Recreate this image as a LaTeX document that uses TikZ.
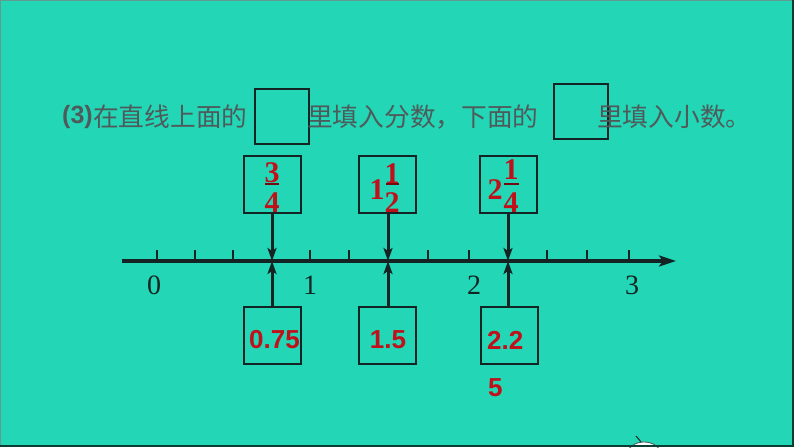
\documentclass[tikz,border=0pt]{standalone}
\usepackage{fontspec}
\setmainfont{Liberation Serif}
\newfontfamily\cjk{Noto Sans CJK SC}
\newfontfamily\arialf{Liberation Sans}
\usetikzlibrary{arrows.meta}
\definecolor{bgc}{HTML}{22D6B6}
\definecolor{txtgray}{HTML}{4F5B5B}
\definecolor{inkc}{HTML}{142424}
\definecolor{redc}{HTML}{C0101A}
\definecolor{edgec}{HTML}{0B3D33}
\tikzset{
  ansbox/.style={draw=inkc, line width=2pt, minimum width=57pt, minimum height=57pt, inner sep=0pt},
  titlebox/.style={draw=inkc, line width=2pt, minimum width=54pt, minimum height=55pt, inner sep=0pt},
  conn/.style={draw=inkc, line width=3pt, -{Stealth[length=13pt,width=9pt,inset=3pt]}},
  axisline/.style={draw=inkc, line width=3.6pt, -{Stealth[length=17pt,width=11pt,inset=4pt]}},
  tickmark/.style={draw=inkc, line width=2.6pt},
  cjktext/.style={inner sep=0pt, anchor=west, text=txtgray, font=\cjk\fontsize{25.7}{28}\selectfont},
  axislabel/.style={inner sep=0pt, text=inkc, font=\fontsize{28}{30}\selectfont},
  fracnum/.style={inner sep=0pt, text=redc, font=\bfseries\fontsize{30}{32}\selectfont},
  fracbar/.style={draw=redc!60!black, line width=1.2pt},
  decnum/.style={inner sep=0pt, text=redc, font=\arialf\bfseries\fontsize{26}{28}\selectfont}
}
\begin{document}
\begin{tikzpicture}[x=1pt,y=-1pt]
\useasboundingbox (0,0) rectangle (794,447);
\fill[bgc] (0,0) rectangle (794,447);

% title line
\node[inner sep=0pt, anchor=west, text=txtgray, font=\arialf\bfseries\fontsize{25}{28}\selectfont] (t0) at (62,117) {(3)};
\node[cjktext] (t1) at (93,117) {在直线上面的};
\node[titlebox] (tb1) at (282,116.5) {};
\node[cjktext] (t2) at (307,117) {里填入分数，下面的};
\node[titlebox] (tb2) at (580.5,111.5) {};
\node[cjktext] (t3) at (597,117) {里填入小数。};

% number line
\coordinate (axs) at (122,261);
\coordinate (axe) at (676,261);
\draw[axisline] (axs) -- (axe);
\foreach \x in {157,195,233,272,310,349,388,428,469,508,547,587,629}{
  \coordinate (tk\x) at (\x,261);
  \draw[tickmark] (tk\x) -- ++(0,-11);
}
\node[axislabel] (l0) at (154,285) {0};
\node[axislabel] (l1) at (310,285) {1};
\node[axislabel] (l2) at (474,285) {2};
\node[axislabel] (l3) at (632,285) {3};

% upper boxes
\node[ansbox] (u1) at (272.5,184.5) {};
\node[ansbox] (u2) at (387.5,184.5) {};
\node[ansbox] (u3) at (508.5,184.5) {};
% fractions
\node[fracnum] (f1n) at (272,173) {3};
\draw[fracbar] (265,184) -- (279,184);
\node[fracnum] (f1d) at (272,203) {4};
\node[fracnum] (f2w) at (377,190) {1};
\node[fracnum] (f2n) at (392,174) {1};
\draw[fracbar] (386,184) -- (399,184);
\node[fracnum] (f2d) at (392,203) {2};
\node[fracnum] (f3w) at (495,190) {2};
\node[fracnum] (f3n) at (511,170) {1};
\draw[fracbar] (504,184) -- (519,184);
\node[fracnum] (f3d) at (511,203) {4};

% lower boxes
\node[ansbox] (d1) at (272.5,335) {};
\node[ansbox] (d2) at (387.5,335) {};
\node[ansbox] (d3) at (509,335) {};
\node[decnum] (n1) at (274.5,340) {0.75};
\node[decnum] (n2) at (388,340) {1.5};
\node[decnum, anchor=west] (n3) at (487,340) {2.2};
\node[decnum, anchor=west] (n4) at (488,388) {5};

% connectors
\coordinate (p1) at (272,261);
\coordinate (p2) at (388,261);
\coordinate (p3) at (508,261);
\draw[conn] (u1.south -| p1) -- (p1);
\draw[conn] (u2.south -| p2) -- (p2);
\draw[conn] (u3.south -| p3) -- (p3);
\draw[conn] (d1.north -| p1) -- (p1);
\draw[conn] (d2.north -| p2) -- (p2);
\draw[conn] (d3.north -| p3) -- (p3);

% partial cartoon at the bottom
\begin{scope}
\clip (0,0) rectangle (794,447);
\draw[fill=white, draw=inkc!80, line width=0.8pt] (644,455) ellipse (17 and 13);
\draw[inkc, line width=1pt] (636,436) .. controls (638,439) and (640,440) .. (641,442);
\end{scope}

% frame
\draw[gray!70!bgc, line width=1pt] (0.5,447) -- (0.5,0.5) -- (794,0.5);
\draw[edgec, line width=1.6pt] (0,446.2) -- (793.2,446.2) -- (793.2,0);
\end{tikzpicture}
\end{document}
